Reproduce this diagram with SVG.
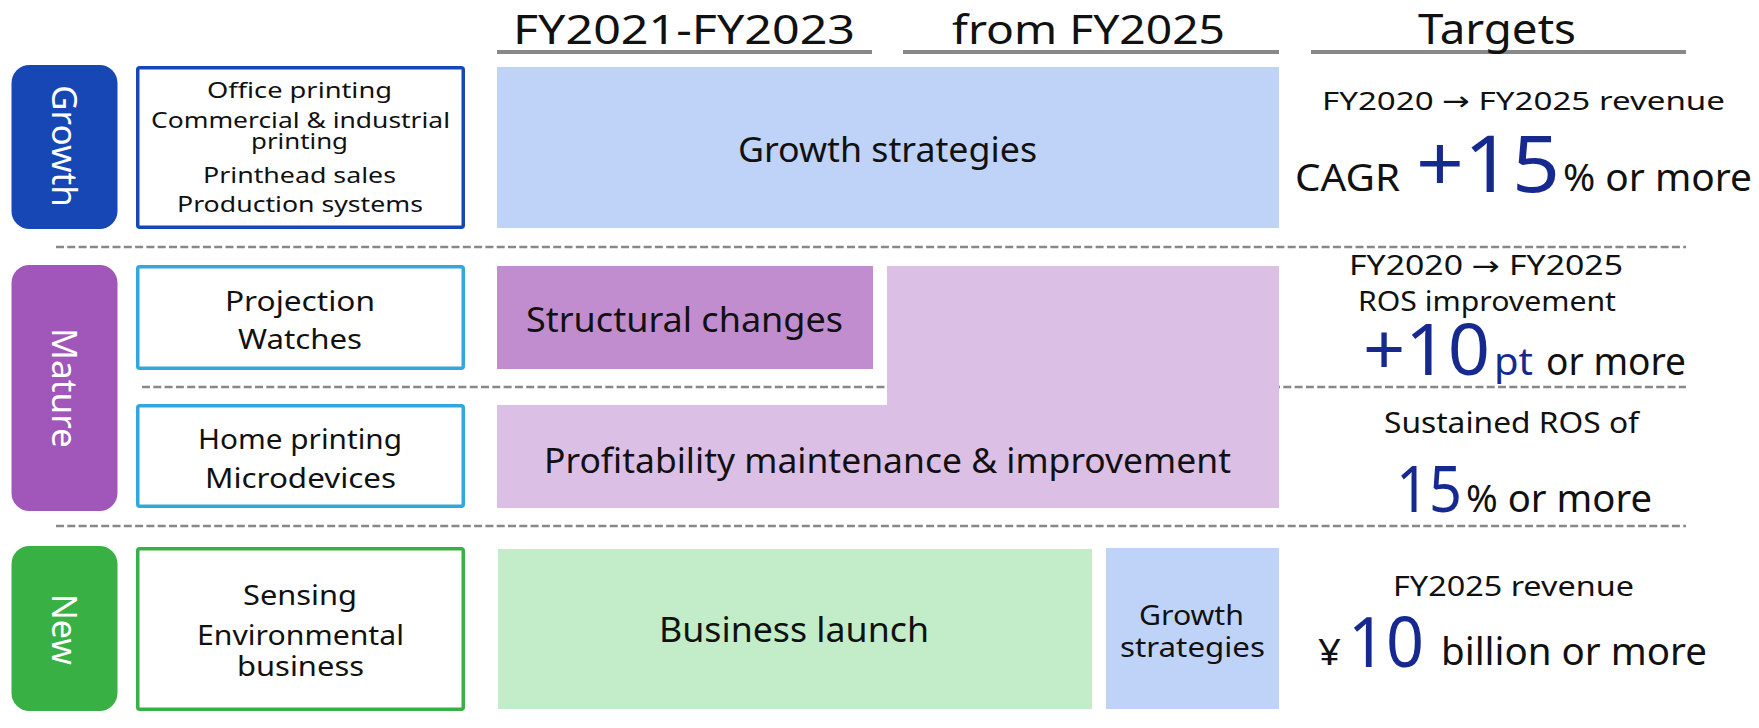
<svg xmlns="http://www.w3.org/2000/svg" width="1759" height="728" viewBox="0 0 1759 728">
<style>
text{font-family:"Noto Sans","DejaVu Sans",sans-serif;fill:#111}
.c{text-anchor:middle}
.tag{font-size:35px;fill:#fff;text-anchor:middle}
.hd{font-size:40px}
.lb{font-size:22px}
.lm{font-size:28px}
.mid{font-size:35px}
.sm{font-size:27px}
.big{fill:#16298f}
.or{font-size:38px}
.ul{stroke:#888;stroke-width:4}
.dash{stroke:#888;stroke-width:2.7;stroke-dasharray:8 3.3;fill:none}
.box{fill:#fff;stroke-width:3.5}
</style>
<rect width="1759" height="728" fill="#fff"/>
<g id="connectors">
<line class="ul" x1="497" y1="52" x2="872" y2="52"/>
<line class="ul" x1="903" y1="52" x2="1279" y2="52"/>
<line class="ul" x1="1311" y1="52" x2="1686" y2="52"/>
<line class="dash" x1="56" y1="247" x2="1686" y2="247"/>
<line class="dash" x1="142" y1="387" x2="1686" y2="387"/>
<line class="dash" x1="56" y1="526" x2="1686" y2="526"/>
</g>
<g id="headers">
<text class="hd c" x="684" y="44" textLength="342" lengthAdjust="spacingAndGlyphs">FY2021-FY2023</text>
<text class="hd c" x="1088.5" y="44" textLength="273" lengthAdjust="spacingAndGlyphs">from FY2025</text>
<text class="hd c" x="1497" y="44" style="font-size:42px" textLength="158" lengthAdjust="spacingAndGlyphs">Targets</text>
</g>
<g id="tag-growth">
<rect x="11.5" y="65" width="106" height="164" rx="18" fill="#1747b5"/>
<text class="tag" transform="translate(52,146) rotate(90)" textLength="122" lengthAdjust="spacingAndGlyphs">Growth</text>
</g>
<g id="tag-mature">
<rect x="11.5" y="265" width="106" height="246" rx="18" fill="#a156b9"/>
<text class="tag" transform="translate(52,388) rotate(90)" textLength="120" lengthAdjust="spacingAndGlyphs">Mature</text>
</g>
<g id="tag-new">
<rect x="11.5" y="546" width="106" height="165" rx="18" fill="#38b044"/>
<text class="tag" transform="translate(52,629.5) rotate(90)" textLength="71" lengthAdjust="spacingAndGlyphs">New</text>
</g>
<g id="box-growth">
<rect class="box" x="137.75" y="67.75" width="325.5" height="159.5" rx="2" stroke="#1747b5"/>
<text class="lb c" x="299.5" y="98" textLength="185" lengthAdjust="spacingAndGlyphs">Office printing</text>
<text class="lb c" x="300.5" y="128" textLength="299" lengthAdjust="spacingAndGlyphs">Commercial &amp; industrial</text>
<text class="lb c" x="299.5" y="149" textLength="97" lengthAdjust="spacingAndGlyphs">printing</text>
<text class="lb c" x="299.5" y="183" textLength="193" lengthAdjust="spacingAndGlyphs">Printhead sales</text>
<text class="lb c" x="300" y="212" textLength="246" lengthAdjust="spacingAndGlyphs">Production systems</text>
</g>
<g id="box-projection">
<rect class="box" x="137.75" y="266.75" width="325.5" height="101.5" rx="2" stroke="#33a7db"/>
<text class="lm c" x="300" y="311" textLength="150" lengthAdjust="spacingAndGlyphs">Projection</text>
<text class="lm c" x="300" y="349" textLength="124" lengthAdjust="spacingAndGlyphs">Watches</text>
</g>
<g id="box-home">
<rect class="box" x="137.75" y="405.75" width="325.5" height="100.5" rx="2" stroke="#33a7db"/>
<text class="lm c" x="300" y="449" textLength="204" lengthAdjust="spacingAndGlyphs">Home printing</text>
<text class="lm c" x="300.5" y="488" textLength="191" lengthAdjust="spacingAndGlyphs">Microdevices</text>
</g>
<g id="box-new">
<rect class="box" x="137.75" y="548.75" width="325.5" height="160.5" rx="2" stroke="#38b044"/>
<text class="lm c" x="300" y="605" textLength="114" lengthAdjust="spacingAndGlyphs">Sensing</text>
<text class="lm c" x="300.5" y="645" textLength="207" lengthAdjust="spacingAndGlyphs">Environmental</text>
<text class="lm c" x="300.5" y="676" textLength="127" lengthAdjust="spacingAndGlyphs">business</text>
</g>
<g id="growth-strategies">
<rect x="497" y="67" width="782" height="161" fill="#bfd3f8"/>
<text class="mid c" x="887.5" y="162" textLength="299" lengthAdjust="spacingAndGlyphs">Growth strategies</text>
</g>
<g id="structural-changes">
<rect x="497" y="266" width="376" height="103" fill="#c18dcf"/>
<text class="mid c" x="684.5" y="332" textLength="317" lengthAdjust="spacingAndGlyphs">Structural changes</text>
</g>
<g id="profitability">
<path d="M887,266 H1279 V508 H497 V405 H887 Z" fill="#dcbfe5"/>
<text class="mid c" x="887.5" y="473" style="font-size:34px" textLength="687" lengthAdjust="spacingAndGlyphs">Profitability maintenance &amp; improvement</text>
</g>
<g id="business-launch">
<rect x="498" y="549" width="594" height="160" fill="#c3ecc8"/>
<text class="mid c" x="794" y="642" textLength="270" lengthAdjust="spacingAndGlyphs">Business launch</text>
</g>
<g id="growth-strategies-new">
<rect x="1106" y="548" width="173" height="161" fill="#bfd3f8"/>
<text class="c" x="1191.5" y="625" style="font-size:28px" textLength="105" lengthAdjust="spacingAndGlyphs">Growth</text>
<text class="c" x="1192.5" y="657" style="font-size:28px" textLength="145" lengthAdjust="spacingAndGlyphs">strategies</text>
</g>
<g id="target-growth">
<text class="sm c" x="1523.5" y="110" style="font-size:26px" textLength="403" lengthAdjust="spacingAndGlyphs">FY2020 → FY2025 revenue</text>
<text class="or" x="1295" y="191" textLength="105" lengthAdjust="spacingAndGlyphs">CAGR</text>
<text class="big" x="1416" y="192" style="font-size:78px" textLength="144" lengthAdjust="spacingAndGlyphs">+15</text>
<text class="or" x="1563" y="191" textLength="189" lengthAdjust="spacingAndGlyphs">% or more</text>
</g>
<g id="target-mature1">
<text class="sm c" x="1486" y="275" textLength="274" lengthAdjust="spacingAndGlyphs">FY2020 → FY2025</text>
<text class="sm c" x="1487" y="311" textLength="258" lengthAdjust="spacingAndGlyphs">ROS improvement</text>
<text class="big" x="1363" y="375" style="font-size:72px" textLength="127" lengthAdjust="spacingAndGlyphs">+10</text>
<text class="big" x="1494" y="375" style="font-size:38px" textLength="39" lengthAdjust="spacingAndGlyphs">pt</text>
<text class="or" x="1546" y="375" textLength="140" lengthAdjust="spacingAndGlyphs">or more</text>
</g>
<g id="target-mature2">
<text class="sm c" x="1511.5" y="433" style="font-size:29px" textLength="255" lengthAdjust="spacingAndGlyphs">Sustained ROS of</text>
<text class="big" x="1396" y="512" style="font-size:64px" textLength="66" lengthAdjust="spacingAndGlyphs">15</text>
<text class="or" x="1466" y="512" textLength="186" lengthAdjust="spacingAndGlyphs">% or more</text>
</g>
<g id="target-new">
<text class="sm c" x="1513.5" y="596" style="font-size:28px" textLength="241" lengthAdjust="spacingAndGlyphs">FY2025 revenue</text>
<text x="1318" y="665" style="font-size:36px" textLength="23" lengthAdjust="spacingAndGlyphs">¥</text>
<text class="big" x="1348" y="667" style="font-size:70px" textLength="76" lengthAdjust="spacingAndGlyphs">10</text>
<text class="or" x="1441" y="665" textLength="266" lengthAdjust="spacingAndGlyphs">billion or more</text>
</g>
</svg>
